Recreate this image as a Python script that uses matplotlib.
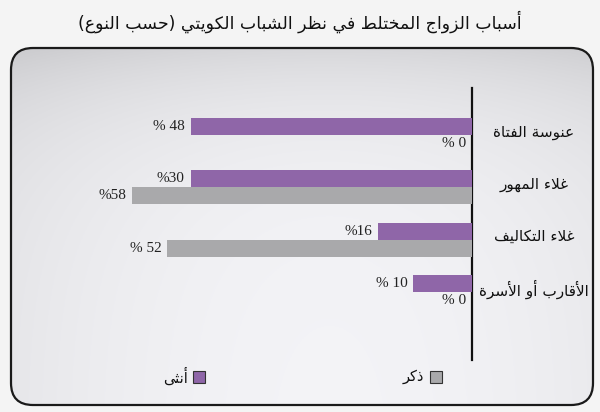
import numpy as np
import matplotlib
matplotlib.use("Agg")
import matplotlib.pyplot as plt
from matplotlib.patches import FancyBboxPatch, Rectangle

# ---------------- data ----------------
title = "أسباب الزواج المختلط في نظر الشباب الكويتي (حسب النوع)"
categories = ["عنوسة الفتاة", "غلاء المهور", "غلاء التكاليف", "الأقارب أو الأسرة"]
female = [48, 48, 16, 10]          # bar lengths as drawn
male = [0, 58, 52, 0]
female_labels = ["% 48", "%30", "%16", "% 10"]
male_labels = ["% 0", "%58", "% 52", "% 0"]
legend_female = "أنثى"
legend_male = "ذكر"

PURPLE = "#8f66a8"
GRAY = "#a9a9ab"

# ---------------- minimal Arabic shaping ----------------
# (isolated, final, initial, medial)
FORMS = {
    '\u0621': ('\uFE80', None, None, None),
    '\u0622': ('\uFE81', '\uFE82', None, None),
    '\u0623': ('\uFE83', '\uFE84', None, None),
    '\u0624': ('\uFE85', '\uFE86', None, None),
    '\u0625': ('\uFE87', '\uFE88', None, None),
    '\u0626': ('\uFE89', '\uFE8A', '\uFE8B', '\uFE8C'),
    '\u0627': ('\uFE8D', '\uFE8E', None, None),
    '\u0628': ('\uFE8F', '\uFE90', '\uFE91', '\uFE92'),
    '\u0629': ('\uFE93', '\uFE94', None, None),
    '\u062A': ('\uFE95', '\uFE96', '\uFE97', '\uFE98'),
    '\u062B': ('\uFE99', '\uFE9A', '\uFE9B', '\uFE9C'),
    '\u062C': ('\uFE9D', '\uFE9E', '\uFE9F', '\uFEA0'),
    '\u062D': ('\uFEA1', '\uFEA2', '\uFEA3', '\uFEA4'),
    '\u062E': ('\uFEA5', '\uFEA6', '\uFEA7', '\uFEA8'),
    '\u062F': ('\uFEA9', '\uFEAA', None, None),
    '\u0630': ('\uFEAB', '\uFEAC', None, None),
    '\u0631': ('\uFEAD', '\uFEAE', None, None),
    '\u0632': ('\uFEAF', '\uFEB0', None, None),
    '\u0633': ('\uFEB1', '\uFEB2', '\uFEB3', '\uFEB4'),
    '\u0634': ('\uFEB5', '\uFEB6', '\uFEB7', '\uFEB8'),
    '\u0635': ('\uFEB9', '\uFEBA', '\uFEBB', '\uFEBC'),
    '\u0636': ('\uFEBD', '\uFEBE', '\uFEBF', '\uFEC0'),
    '\u0637': ('\uFEC1', '\uFEC2', '\uFEC3', '\uFEC4'),
    '\u0638': ('\uFEC5', '\uFEC6', '\uFEC7', '\uFEC8'),
    '\u0639': ('\uFEC9', '\uFECA', '\uFECB', '\uFECC'),
    '\u063A': ('\uFECD', '\uFECE', '\uFECF', '\uFED0'),
    '\u0641': ('\uFED1', '\uFED2', '\uFED3', '\uFED4'),
    '\u0642': ('\uFED5', '\uFED6', '\uFED7', '\uFED8'),
    '\u0643': ('\uFED9', '\uFEDA', '\uFEDB', '\uFEDC'),
    '\u0644': ('\uFEDD', '\uFEDE', '\uFEDF', '\uFEE0'),
    '\u0645': ('\uFEE1', '\uFEE2', '\uFEE3', '\uFEE4'),
    '\u0646': ('\uFEE5', '\uFEE6', '\uFEE7', '\uFEE8'),
    '\u0647': ('\uFEE9', '\uFEEA', '\uFEEB', '\uFEEC'),
    '\u0648': ('\uFEED', '\uFEEE', None, None),
    '\u0649': ('\uFEEF', '\uFEF0', None, None),
    '\u064A': ('\uFEF1', '\uFEF2', '\uFEF3', '\uFEF4'),
}
LAMALEF = {
    '\u0622': ('\uFEF5', '\uFEF6', None, None),
    '\u0623': ('\uFEF7', '\uFEF8', None, None),
    '\u0625': ('\uFEF9', '\uFEFA', None, None),
    '\u0627': ('\uFEFB', '\uFEFC', None, None),
}


def shape(text):
    units = []
    i = 0
    while i < len(text):
        c = text[i]
        if c == '\u0644' and i + 1 < len(text) and text[i + 1] in LAMALEF:
            units.append(LAMALEF[text[i + 1]])
            i += 2
        else:
            units.append(FORMS.get(c, c))
            i += 1
    out = []
    for k, u in enumerate(units):
        if isinstance(u, str):
            out.append(u)
            continue
        prev = units[k - 1] if k > 0 else None
        nxt = units[k + 1] if k + 1 < len(units) else None
        jp = isinstance(prev, tuple) and prev[2] is not None
        jn = u[2] is not None and isinstance(nxt, tuple) and nxt[1] is not None
        if jp and jn:
            g = u[3]
        elif jp:
            g = u[1]
        elif jn:
            g = u[2]
        else:
            g = u[0]
        out.append(g)
    s = ''.join(out)[::-1]
    s = s.translate(str.maketrans({'(': ')', ')': '('}))
    return s


AR_FONT = "DejaVu Sans"
NUM_FONT = "Liberation Serif"

# ---------------- figure ----------------
W, H = 600, 412
fig = plt.figure(figsize=(W / 100, H / 100), dpi=100, facecolor="#f4f4f4")

bg = fig.add_axes([0, 0, 1, 1])
bg.set_xlim(0, W)
bg.set_ylim(H, 0)
bg.axis("off")

# panel with gradient
px0, py0, px1, py1 = 11, 48, 593, 405
xx, yy = np.meshgrid(np.linspace(px0, px1, 300), np.linspace(py0, py1, 200))
g = 0.955 - 0.11 * np.exp(-(yy - py0) / 70) - 0.05 * ((xx - 330) / 320) ** 2
img = np.clip(np.dstack([g, g, g + 0.012]), 0, 1)
im = bg.imshow(img, extent=(px0, px1, py1, py0), aspect="auto", zorder=1)
panel = FancyBboxPatch((px0, py0), px1 - px0, py1 - py0,
                       boxstyle="round,pad=0,rounding_size=22",
                       fc="none", ec="#1a1a1a", lw=1.6, zorder=3)
bg.add_patch(panel)
im.set_clip_path(panel)

bg.text(300, 22, shape(title), ha="center", va="center",
        fontsize=12.5, family=AR_FONT, color="#111111", zorder=5)

# ---------------- bars ----------------
ax_l, ax_r, ax_t, ax_b = 20, 472, 88, 360
ax = fig.add_axes([ax_l / W, 1 - ax_b / H, (ax_r - ax_l) / W, (ax_b - ax_t) / H])
ax.patch.set_alpha(0)
pp = 5.86  # px per percent
ax.set_xlim((ax_r - ax_l) / pp, 0)
unit = 52.3
top_off = (135 - ax_t) / unit
ax.set_ylim(3 + (ax_b - 292) / unit, -top_off)
for s in ax.spines.values():
    s.set_visible(False)
ax.spines["right"].set_visible(True)
ax.spines["right"].set_linewidth(1.6)
ax.spines["right"].set_color("#111111")
ax.set_xticks([])
ax.set_yticks([])

bh = 17 / unit
idx = np.arange(len(categories))
ax.barh(idx - bh / 2, female, height=bh, color=PURPLE, zorder=3)
ax.barh(idx + bh / 2, male, height=bh, color=GRAY, zorder=3)

gap = 6 / pp
for i in idx:
    ax.text(female[i] + gap, i - bh / 2, female_labels[i], ha="right", va="center",
            fontsize=11, family=NUM_FONT, color="#222222")
    ax.text(male[i] + gap, i + bh / 2, male_labels[i], ha="right", va="center",
            fontsize=11, family=NUM_FONT, color="#222222")
    # category label
    yp = 135 + i * unit
    bg.text(534, yp - 3, shape(categories[i]), ha="center", va="center",
            fontsize=11, family=AR_FONT, color="#111111", zorder=5)

# ---------------- legend ----------------
bg.add_patch(Rectangle((430, 371), 12, 12, fc=GRAY, ec="#333333", lw=0.8, zorder=5))
bg.text(424, 377, shape(legend_male), ha="right", va="center",
        fontsize=10.5, family=AR_FONT, color="#111111", zorder=5)
bg.add_patch(Rectangle((193, 371), 12, 12, fc=PURPLE, ec="#333333", lw=0.8, zorder=5))
bg.text(188, 377, shape(legend_female), ha="right", va="center",
        fontsize=10.5, family=AR_FONT, color="#111111", zorder=5)

fig.savefig("out.png", dpi=100, facecolor=fig.get_facecolor())
